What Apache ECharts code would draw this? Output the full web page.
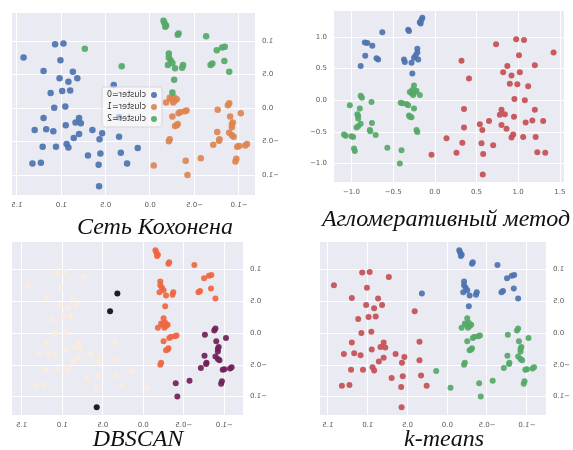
<!DOCTYPE html>
<html><head><meta charset="utf-8">
<script src="https://cdn.jsdelivr.net/npm/echarts@6/dist/echarts.min.js"></script>
<style>
html,body{margin:0;padding:0;background:#fff;width:573px;height:450px;overflow:hidden}
.p{position:absolute}
.flip{transform:scaleX(-1)}
</style></head><body>
<div id="titles" class="p" style="left:0;top:0;width:573px;height:450px"></div>
<div id="c1" class="p flip" style="left:0;top:0;width:290px;height:215px"></div>
<div id="c2" class="p" style="left:285px;top:0;width:288px;height:215px"></div>
<div id="c3" class="p flip" style="left:0;top:235px;width:290px;height:215px"></div>
<div id="c4" class="p flip" style="left:285px;top:235px;width:288px;height:215px"></div>
<script>
// ---- data: one 2-D projection shared by all four panels ----
const xs = [
  -0.15,-0.16,-0.18,-0.17,-0.32,-0.31,-0.63,-0.84,-0.81,-0.75,-0.835,-0.70,-0.68,-0.89,-0.21,-0.21,-0.23,-0.20,-0.25,-0.28,-0.37,-0.36,-0.27,
  -0.89,-0.875,-1.02,-0.76,-0.90,-0.93,-0.92,-0.92,-0.755,-0.89,-0.92,-0.94,-0.78,-0.775,-0.71,-1.09,-1.07,-1.00,-0.98,-0.97,-0.96,-0.57,-0.40,-0.42,
  -0.41,-0.39,-0.34,-0.32,-0.25,-0.30,-0.28,-0.26,-0.24,-0.22,-0.27,-0.18,-0.25,-0.31,-0.30,-0.28,-0.22,-0.21,
  0.976,1.07,0.735,1.425,1.01,0.32,1.20,0.87,0.82,0.92,1.02,0.41,0.90,0.99,1.12,0.955,1.08,0.35,1.20,0.80,0.78,0.84,0.95,
  0.65,0.54,1.09,1.17,1.30,0.80,0.86,0.35,0.57,0.94,0.92,1.06,1.21,0.14,0.33,0.56,0.70,0.26,0.58,1.23,1.325,0.575,-0.04
];
const ys = [
  1.30,1.27,1.23,1.21,1.11,1.09,1.07,0.91,0.90,0.86,0.70,0.66,0.64,0.54,0.81,0.75,0.71,0.64,0.67,0.59,0.64,0.60,0.42,
  0.07,0.04,-0.08,-0.03,-0.13,-0.22,-0.25,-0.29,-0.36,-0.37,-0.41,-0.43,-0.47,-0.49,-0.55,-0.54,-0.56,-0.57,-0.58,-0.76,-0.80,-0.75,-0.79,-1.00,
  -0.04,-0.05,-0.06,-0.08,0.23,0.13,0.11,0.08,0.13,0.15,0.16,0.08,-0.13,-0.24,-0.26,-0.27,-0.47,-0.50,
  0.96,0.95,0.88,0.75,0.71,0.62,0.55,0.54,0.44,0.39,0.44,0.34,0.26,0.25,0.22,0.02,0.00,-0.14,-0.15,-0.15,-0.23,-0.22,-0.26,
  -0.33,-0.38,-0.35,-0.32,-0.33,-0.39,-0.45,-0.43,-0.47,-0.54,-0.59,-0.58,-0.58,-0.60,-0.67,-0.68,-0.71,-0.83,-0.85,-0.82,-0.83,-1.17,-0.86
];
const kohonenLabels = [
  2,2,2,2,2,2,2,2,2,2,2,2,2,2,2,2,2,2,2,2,2,2,2,
  1,1,1,1,1,1,1,1,1,1,1,1,1,1,1,1,1,1,1,1,1,1,1,1,
  1,1,1,1,2,1,1,1,1,1,1,1,1,1,1,1,1,1,
  0,0,2,0,0,2,0,0,0,0,0,0,0,0,0,0,0,0,0,0,0,0,0,
  0,0,0,0,0,0,0,0,0,0,0,0,0,0,0,0,0,0,0,0,0,0,1
];
const agglomerativeLabels = [
  0,0,0,0,0,0,0,0,0,0,0,0,0,0,0,0,0,0,0,0,0,0,0,
  1,1,1,1,1,1,1,1,1,1,1,1,1,1,1,1,1,1,1,1,1,1,1,1,
  1,1,1,1,1,1,1,1,1,1,1,1,1,1,1,1,1,1,
  2,2,2,2,2,2,2,2,2,2,2,2,2,2,2,2,2,2,2,2,2,2,2,
  2,2,2,2,2,2,2,2,2,2,2,2,2,2,2,2,2,2,2,2,2,2,2
];
const dbscanLabels = [
  1,1,1,1,1,1,1,1,1,1,1,1,1,1,1,1,1,1,1,1,1,1,1,
  2,2,2,2,2,2,2,2,2,2,2,2,2,2,2,2,2,2,2,2,2,2,2,2,
  1,1,1,1,1,1,1,1,1,1,1,1,1,1,1,1,1,1,
  0,0,0,0,0,-1,0,0,0,0,0,-1,0,0,0,0,0,0,0,0,0,0,0,
  0,0,0,0,0,0,0,0,0,0,0,0,0,0,0,0,0,0,0,0,0,-1,0
];
const kmeansLabels = [
  1,1,1,1,1,1,1,1,1,1,1,1,1,1,1,1,1,1,1,1,1,1,1,
  2,2,2,2,2,2,2,2,2,2,2,2,2,2,2,2,2,2,2,2,2,2,2,2,
  2,2,2,2,2,2,2,2,2,2,2,2,2,2,2,2,2,2,
  0,0,0,0,0,1,0,0,0,0,0,0,0,0,0,0,0,0,0,0,0,0,0,
  0,0,0,0,0,0,0,0,0,0,0,0,0,2,0,0,0,0,0,0,0,0,2
];
const xTicks = [-1.0,-0.5,0.0,0.5,1.0,1.5];
const yTicks = [-1.0,-0.5,0.0,0.5,1.0];
const titles = ['Сеть Кохонена','Агломеративный метод','DBSCAN','k-means'];
const kohonenNames = ['cluster=0','cluster=1','cluster=2'];

// ---- styling ----
const fmt = v => v.toFixed(1).replace('-', '\u2212');
const lblStyle = {fontSize:7, color:'#5a5a5a', fontFamily:'DejaVu Sans'};

function panel(id, grid, xr, yr, labels, groups, legend, size){
  const ch = echarts.init(document.getElementById(id));
  const series = groups.map(g => ({
    type:'scatter', name:g.name, symbolSize:size || 6, silent:true,
    itemStyle:{color:g.color, opacity:g.opacity || 0.92},
    data: xs.map((x,i)=> labels[i]===g.label ? [x, ys[i]] : null).filter(d=>d)
  }));
  const axisCommon = {
    type:'value', axisLine:{show:false},
    splitLine:{show:true, lineStyle:{color:'#ffffff', width:1}}
  };
  ch.setOption({
    animation:false,
    grid:{left:grid[0], right:grid[1], top:grid[2], bottom:grid[3], show:true, backgroundColor:'#EAEAF2', borderWidth:0},
    xAxis:Object.assign({}, axisCommon, {min:xr[0], max:xr[1],
      axisTick:{show:false, customValues:xTicks},
      axisLabel:Object.assign({customValues:xTicks, formatter:fmt, margin:7}, lblStyle)}),
    yAxis:Object.assign({}, axisCommon, {min:yr[0], max:yr[1],
      axisTick:{show:false, customValues:yTicks},
      axisLabel:Object.assign({customValues:yTicks, formatter:fmt, margin:7}, lblStyle)}),
    legend: legend || {show:false},
    series
  });
}

// Kohonen (mirrored)
panel('c1', [35, 12, 13, 20], [-1.18, 1.555], [-1.30, 1.415], kohonenLabels, [
  {label:0, name:kohonenNames[0], color:'#4C72B0'},
  {label:1, name:kohonenNames[1], color:'#DD8452'},
  {label:2, name:kohonenNames[2], color:'#55A868'}
], {show:true, orient:'vertical', left:128, top:87, itemWidth:6, itemHeight:6, itemGap:4,
    icon:'circle', textStyle:{fontSize:8, color:'#333', fontFamily:'DejaVu Sans'},
    backgroundColor:'rgba(255,255,255,0.55)', borderColor:'#d8d8d8', borderWidth:1, borderRadius:3, padding:[4,5]}, 6.5);

// Agglomerative
panel('c2', [49, 9, 11, 33], [-1.21, 1.55], [-1.29, 1.406], agglomerativeLabels, [
  {label:0, name:'0', color:'#4C72B0'},
  {label:1, name:'1', color:'#55A868'},
  {label:2, name:'2', color:'#C44E52'}
]);

// DBSCAN (mirrored)
panel('c3', [47, 12, 7, 35], [-1.23, 1.62], [-1.29, 1.43], dbscanLabels, [
  {label:0, name:'0', color:'#FAEBDD', opacity:0.85},
  {label:1, name:'1', color:'#EE6642'},
  {label:2, name:'2', color:'#701F57'},
  {label:-1, name:'-1', color:'#0B0B14'}
]);

// k-means (mirrored)
panel('c4', [21, 35, 7, 35], [-1.24, 1.60], [-1.29, 1.43], kmeansLabels, [
  {label:0, name:'0', color:'#C44E52'},
  {label:1, name:'1', color:'#4C72B0'},
  {label:2, name:'2', color:'#55A868'}
]);

// titles
const tch = echarts.init(document.getElementById('titles'));
const titlePos = [[155,228],[446,220],[138,440],[444,440]];
tch.setOption({
  animation:false,
  graphic: titles.map((t,i)=>({
    type:'text', x:titlePos[i][0], y:titlePos[i][1], silent:true,
    style:{text:t, fill:'#111', align:'center', verticalAlign:'middle',
      font:'italic 24px "Liberation Serif", "Times New Roman", serif'}
  }))
});
</script>
</body></html>
